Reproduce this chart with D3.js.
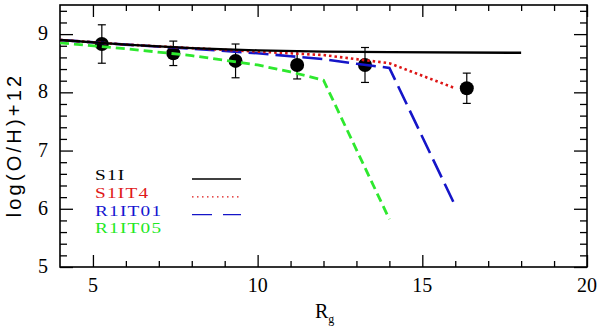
<!DOCTYPE html>
<html>
<head>
<meta charset="utf-8">
<script src="https://cdn.jsdelivr.net/npm/d3@7"></script>
<style>
  html, body { margin: 0; padding: 0; background: #fff; }
  svg { display: block; }
</style>
</head>
<body>
<svg id="chart" width="600" height="328"></svg>
<script>
// ---- data ----
const obsR   = [5.27, 7.44, 9.33, 11.2, 13.26, 16.35];
const obsOH  = [8.83, 8.67, 8.54, 8.47, 8.47, 8.07];
const obsErr = [0.33, 0.21, 0.29, 0.24, 0.30, 0.26];

const s1iR  = [4, 6, 8, 10, 12, 14, 18];
const s1iOH = [8.90, 8.82, 8.76, 8.72, 8.70, 8.69, 8.68];

const s1it4R  = [4, 6, 8, 10, 12, 13, 14, 16];
const s1it4OH = [8.90, 8.82, 8.76, 8.70, 8.64, 8.57, 8.50, 8.07];

const r1it01R  = [4, 6, 8, 10, 11, 12, 13, 14, 16];
const r1it01OH = [8.90, 8.82, 8.75, 8.67, 8.62, 8.57, 8.49, 8.42, 6.05];

const r1it05R  = [4, 6, 8, 10, 11, 12, 14];
const r1it05OH = [8.85, 8.75, 8.63, 8.47, 8.35, 8.21, 5.82];

const seriesNames = ["S1I", "S1IT4", "R1IT01", "R1IT05"];
const xTickLabels = [5, 10, 15, 20];
const yTickLabels = [5, 6, 7, 8, 9];

// ---- layout ----
const svg = d3.select("#chart");
const L = 60, R = 587, T = 5, B = 267;
const x = d3.scaleLinear().domain([4, 20]).range([L, R]);
const y = d3.scaleLinear().domain([5, 9.5]).range([B, T]);

const serif = "'Liberation Serif', 'DejaVu Serif', serif";
const sans = "'Liberation Sans', Arial, sans-serif";

// ---- axes (ticks inward on all four sides) ----
const xMinor = d3.range(5, 20, 1).filter(v => v % 5 !== 0);
const yMinor = d3.range(5.2, 9.5, 0.2).filter(v => Math.abs(v - Math.round(v)) > 0.01);

const axG = svg.append("g");
function tickAxis(axisFn, scale, vals, size, transform) {
  const a = axisFn(scale).tickValues(vals).tickSize(size).tickFormat("");
  const g = axG.append("g").attr("transform", transform).call(a);
  g.select(".domain").remove();
  g.selectAll("line").attr("stroke", "#000").attr("stroke-width", 1.3);
}
tickAxis(d3.axisTop, x, xTickLabels, 12, `translate(0,${B})`);
tickAxis(d3.axisTop, x, xMinor, 6, `translate(0,${B})`);
tickAxis(d3.axisBottom, x, xTickLabels, 12, `translate(0,${T})`);
tickAxis(d3.axisBottom, x, xMinor, 6, `translate(0,${T})`);
tickAxis(d3.axisRight, y, yTickLabels, 13, `translate(${L},0)`);
tickAxis(d3.axisRight, y, yMinor, 7, `translate(${L},0)`);
tickAxis(d3.axisLeft, y, yTickLabels, 13, `translate(${R},0)`);
tickAxis(d3.axisLeft, y, yMinor, 7, `translate(${R},0)`);

svg.append("rect").attr("x", L).attr("y", T).attr("width", R - L).attr("height", B - T)
  .attr("fill", "none").attr("stroke", "#000").attr("stroke-width", 1.6);

svg.append("g").selectAll("text").data(xTickLabels).join("text")
  .attr("x", d => x(d)).attr("y", 292)
  .attr("text-anchor", "middle").attr("font-family", serif).attr("font-size", 20)
  .attr("fill", "#000").text(d => d);
svg.append("g").selectAll("text").data(yTickLabels).join("text")
  .attr("x", 48).attr("y", d => y(d) - 1)
  .attr("text-anchor", "end").attr("dominant-baseline", "central")
  .attr("font-family", serif).attr("font-size", 20)
  .attr("fill", "#000").text(d => d);

const xt = svg.append("text").attr("x", 315).attr("y", 318)
  .attr("font-family", serif).attr("font-size", 20).attr("fill", "#000");
xt.append("tspan").text("R");
xt.append("tspan").attr("font-size", 12).attr("dy", 5).text("g");

svg.append("text").attr("transform", "translate(21,145) rotate(-90)")
  .attr("text-anchor", "middle").attr("font-family", sans).attr("font-size", 20)
  .attr("letter-spacing", 3.2).attr("fill", "#000").text("log(O/H)+12");

// ---- observations ----
const obs = obsR.map((r, i) => ({ r, oh: obsOH[i], e: obsErr[i] }));
const og = svg.append("g");
og.selectAll("line.eb").data(obs).join("line").attr("class", "eb")
  .attr("x1", d => x(d.r)).attr("x2", d => x(d.r))
  .attr("y1", d => y(d.oh + d.e)).attr("y2", d => y(d.oh - d.e))
  .attr("stroke", "#000").attr("stroke-width", 1.2);
["top", "bot"].forEach(k => {
  og.selectAll("line.cap" + k).data(obs).join("line").attr("class", "cap" + k)
    .attr("x1", d => x(d.r) - 4).attr("x2", d => x(d.r) + 4)
    .attr("y1", d => y(k === "top" ? d.oh + d.e : d.oh - d.e))
    .attr("y2", d => y(k === "top" ? d.oh + d.e : d.oh - d.e))
    .attr("stroke", "#000").attr("stroke-width", 1.2);
});
og.selectAll("circle").data(obs).join("circle")
  .attr("cx", d => x(d.r)).attr("cy", d => y(d.oh)).attr("r", 7).attr("fill", "#000");

// ---- model lines ----
const line = d3.line().x(d => x(d[0])).y(d => y(d[1]));
const zip = (a, b) => a.map((v, i) => [v, b[i]]);
const models = [
  { data: zip(s1iR, s1iOH), color: "#000000", dash: null, w: 2.4, lw: 1.3 },
  { data: zip(s1it4R, s1it4OH), color: "#dd1515", dash: "2.5,3", w: 2.6, lw: 1.2 },
  { data: zip(r1it01R, r1it01OH), color: "#1515c8", dash: "20,7", w: 2.6, lw: 1.3 },
  { data: zip(r1it05R, r1it05OH), color: "#2ee82e", dash: "9,5", w: 2.8, lw: 1.3 }
];
const mg = svg.append("g");
models.slice().reverse().forEach(m => {
  mg.append("path").attr("d", line(m.data)).attr("fill", "none")
    .attr("stroke", m.color).attr("stroke-width", m.w)
    .attr("stroke-dasharray", m.dash);
});

// ---- legend ----
const legTextColors = ["#000000", "#e01818", "#1414d0", "#22e822"];
const lg = svg.append("g");
seriesNames.forEach((n, i) => {
  const yy = 180 + i * 17.8;
  lg.append("text").attr("transform", `translate(95,${yy}) scale(1.25,1)`)
    .attr("font-family", serif).attr("font-size", 15.4).attr("letter-spacing", 1)
    .attr("fill", legTextColors[i]).text(n);
  if (i < 3) {
    lg.append("line").attr("x1", 192).attr("x2", 241)
      .attr("y1", yy - 1).attr("y2", yy - 1)
      .attr("stroke", models[i].color).attr("stroke-width", models[i].lw)
      .attr("stroke-dasharray", i === 1 ? "1.5,3.5" : (i === 2 ? "20,11" : null));
  }
});
</script>
</body>
</html>
